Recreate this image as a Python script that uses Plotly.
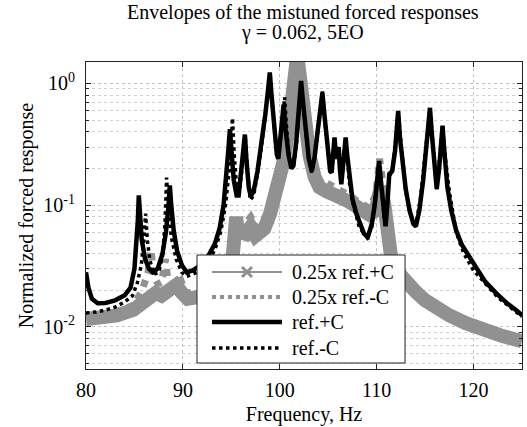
import plotly.graph_objects as go

# Envelope of the reference forced response (+C)
ref_pos_f = [80.0, 80.25, 80.6, 81.2, 82.0, 83.0, 84.0, 84.6, 85.0, 85.2, 85.35, 85.45, 85.55, 85.75,
             86.1, 86.5, 86.9, 87.4, 87.9, 88.25, 88.5, 88.65, 88.8, 89.05, 89.4, 89.9, 90.4, 91.0,
             91.8, 92.6, 93.3, 93.8, 94.2, 94.5, 94.7, 94.85, 95.0, 95.25, 95.55, 95.75, 95.95, 96.2,
             96.4, 96.55, 96.8, 97.0, 97.3, 97.7, 98.1, 98.5, 98.8, 98.97, 99.15, 99.4, 99.7, 99.85,
             100.05, 100.25, 100.4, 100.6, 100.9, 101.2, 101.4, 101.7, 102.0, 102.2, 102.4, 102.7,
             103.0, 103.3, 103.6, 103.9, 104.2, 104.4, 104.6, 104.9, 105.2, 105.35, 105.5, 105.65,
             105.82, 106.0, 106.08, 106.2, 106.35, 106.55, 106.8, 106.95, 107.2, 107.5, 107.9, 108.3,
             108.7, 109.1, 109.5, 109.8, 110.05, 110.25, 110.5, 110.75, 110.92, 111.1, 111.3, 111.6,
             111.9, 112.1, 112.22, 112.4, 112.7, 113.0, 113.4, 113.8, 114.05, 114.4, 114.8, 115.1,
             115.35, 115.5, 115.7, 115.95, 116.2, 116.45, 116.65, 116.8, 116.95, 117.3, 117.7, 118.2,
             118.8, 119.5, 120.3, 121.2, 122.3, 123.5, 124.5, 125.0]
ref_pos_v = [0.028, 0.021, 0.017, 0.0156, 0.0157, 0.0165, 0.0182, 0.021, 0.030, 0.045, 0.075, 0.120, 0.085, 0.052,
             0.036, 0.030, 0.028, 0.030, 0.040, 0.060, 0.095, 0.145, 0.100, 0.062, 0.042, 0.032, 0.028, 0.029,
             0.032, 0.038, 0.048, 0.065, 0.100, 0.170, 0.290, 0.420, 0.270, 0.160, 0.120, 0.120, 0.170, 0.270,
             0.380, 0.240, 0.140, 0.118, 0.130, 0.190, 0.310, 0.550, 0.900, 1.23, 0.800, 0.420, 0.260, 0.240,
             0.350, 0.520, 0.670, 0.420, 0.260, 0.200, 0.210, 0.330, 0.600, 1.05, 0.700, 0.380,
             0.240, 0.190, 0.250, 0.400, 0.650, 0.840, 0.560, 0.300, 0.190, 0.185, 0.260, 0.360,
             0.240, 0.280, 0.300, 0.200, 0.148, 0.220, 0.360, 0.260, 0.160, 0.112, 0.085, 0.068,
             0.058, 0.055, 0.070, 0.100, 0.160, 0.230, 0.140, 0.080, 0.067, 0.100, 0.180, 0.190,
             0.280, 0.450, 0.595, 0.360, 0.200, 0.135, 0.090, 0.070, 0.067, 0.090, 0.160, 0.270,
             0.450, 0.630, 0.380, 0.200, 0.136, 0.200, 0.330, 0.450, 0.300, 0.140, 0.090, 0.062,
             0.047, 0.038, 0.030, 0.0235, 0.019, 0.0155, 0.0135, 0.0124]

# Envelope of the reference forced response (-C)
ref_neg_f = [80.0, 81.0, 82.0, 83.0, 84.0, 84.8, 85.3, 85.7, 85.95, 86.15, 86.35, 86.6, 87.0, 87.5,
             87.9, 88.15, 88.32, 88.5, 88.8, 89.3, 89.9, 90.4, 91.0, 91.8, 92.6, 93.3, 93.9, 94.4,
             94.8, 95.0, 95.12, 95.3, 95.55, 95.8, 96.0, 96.25, 96.45, 96.65, 96.95, 97.3, 97.7, 98.1,
             98.5, 98.8, 98.97, 99.15, 99.4, 99.7, 99.9, 100.15, 100.35, 100.5, 100.7, 100.95, 101.2,
             101.45, 101.75, 102.0, 102.2, 102.4, 102.7, 103.0, 103.3, 103.6, 103.9, 104.2, 104.4,
             104.6, 104.9, 105.2, 105.4, 105.65, 105.85, 106.08, 106.35, 106.8, 107.2, 107.6, 108.2,
             109.0, 109.5, 110.0, 110.25, 110.5, 110.9, 111.3, 111.6, 111.9, 112.22, 112.5, 113.0,
             113.5, 114.0, 114.5, 115.0, 115.5, 115.75, 116.2, 116.5, 116.8, 117.1, 117.5, 118.2,
             119.0, 120.0, 121.2, 122.5, 124.0, 125.0]
ref_neg_v = [0.0130, 0.0132, 0.0137, 0.0145, 0.0160, 0.018, 0.023, 0.032, 0.050, 0.085, 0.050, 0.035, 0.027, 0.028,
             0.038, 0.070, 0.168, 0.095, 0.055, 0.036, 0.028, 0.026, 0.027, 0.029, 0.034, 0.043, 0.060, 0.100,
             0.200, 0.350, 0.520, 0.260, 0.140, 0.120, 0.170, 0.270, 0.350, 0.200, 0.110, 0.120, 0.180, 0.300,
             0.520, 0.850, 1.15, 0.760, 0.410, 0.250, 0.260, 0.420, 0.620, 0.770, 0.430, 0.260, 0.200,
             0.215, 0.340, 0.580, 1.00, 0.680, 0.370, 0.235, 0.185, 0.240, 0.390, 0.640, 0.860,
             0.540, 0.290, 0.185, 0.200, 0.350, 0.235, 0.290, 0.150, 0.350, 0.150, 0.100, 0.066,
             0.054, 0.066, 0.140, 0.225, 0.130, 0.066, 0.175, 0.185, 0.300, 0.580, 0.330, 0.130,
             0.085, 0.066, 0.110, 0.260, 0.610, 0.360, 0.135, 0.250, 0.440, 0.240, 0.130, 0.060,
             0.040, 0.029, 0.0225, 0.0175, 0.0140, 0.0121]

# Envelopes for 0.25x the reference mistuning (+C)
q_pos_f = [80.0, 81.5, 83.2, 84.9, 85.8, 86.5, 87.2, 87.8, 88.5, 89.3, 89.9, 90.5, 91.5, 92.5, 93.5,
           94.3, 94.9, 95.3, 95.5, 95.7, 96.0, 96.5, 97.0, 97.5, 98.0, 98.4, 99.0, 99.7, 100.4, 100.9,
           101.3, 101.5, 101.8, 102.1, 102.5, 103.05, 103.6, 104.1, 104.8, 105.5, 106.2, 107.2, 108.2,
           109.2, 109.9, 110.4, 110.8, 111.1, 111.5, 112.3, 113.0, 114.0, 115.0, 116.0, 117.5, 119.2,
           121.0, 123.0, 125.0]
q_pos_v = [0.0116, 0.0118, 0.0124, 0.0138, 0.0160, 0.0185, 0.019, 0.018, 0.020, 0.022, 0.019, 0.017, 0.0175, 0.018, 0.019,
           0.020, 0.023, 0.040, 0.080, 0.055, 0.060, 0.058, 0.066, 0.056, 0.062, 0.064, 0.085, 0.135, 0.23, 0.42,
           1.0, 1.6, 1.7, 1.1, 0.45, 0.26, 0.17, 0.14, 0.13, 0.127, 0.116, 0.106, 0.094,
           0.084, 0.090, 0.14, 0.10, 0.058, 0.037, 0.0275, 0.023, 0.0195, 0.0165, 0.0145, 0.0124, 0.0107,
           0.0094, 0.0084, 0.0076]

# Envelopes for 0.25x the reference mistuning (-C)
q_neg_f = [80.0, 81.5, 83.2, 84.9, 85.8, 86.4, 86.7, 87.0, 87.5, 87.9, 88.2, 88.45, 89.0, 89.8, 90.3,
           91.5, 93.0, 94.2, 94.9, 95.4, 95.8, 96.4, 97.0, 97.6, 98.4, 99.0, 99.7, 100.4, 100.9, 101.3,
           101.6, 102.0, 102.3, 102.7, 103.1, 103.6, 104.3, 105.0, 105.6, 106.2, 107.2, 108.2, 109.2,
           109.9, 110.3, 110.7, 111.0, 111.3, 111.7, 112.3, 113.0, 114.0, 115.0, 116.0, 117.5, 119.2,
           121.0, 123.0, 125.0]
q_neg_v = [0.0124, 0.0126, 0.0133, 0.0150, 0.020, 0.028, 0.043, 0.026, 0.022, 0.026, 0.036, 0.024, 0.021, 0.024, 0.019,
           0.019, 0.021, 0.022, 0.026, 0.045, 0.060, 0.070, 0.080, 0.065, 0.075, 0.100, 0.160, 0.26, 0.50, 1.2,
           1.7, 1.3, 0.70, 0.35, 0.24, 0.16, 0.16, 0.15, 0.14, 0.13, 0.12, 0.105, 0.095,
           0.12, 0.24, 0.14, 0.07, 0.046, 0.034, 0.029, 0.024, 0.020, 0.0172, 0.0150, 0.0128, 0.0111,
           0.0098, 0.0088, 0.0080]

series_names = ["0.25x ref.+C", "0.25x ref.-C", "ref.+C", "ref.-C"]
y_tick_vals = [0.01, 0.1, 1]
y_tick_text = ["10<sup>-2</sup>", "10<sup>-1</sup>", "10<sup>0</sup>"]
x_tick_vals = [80, 90, 100, 110, 120]

GRAY = "#919191"
FONT = "Liberation Serif"

fig = go.Figure()

# gray band: 0.25x mistuning envelopes
fig.add_trace(go.Scatter(x=q_pos_f, y=q_pos_v, mode="lines", name=series_names[0],
                         line=dict(color=GRAY, width=14), showlegend=False))
fig.add_trace(go.Scatter(x=q_neg_f, y=q_neg_v, mode="lines", name=series_names[1],
                         line=dict(color=GRAY, width=7, dash="dot"), showlegend=False))

# black envelopes: reference mistuning
fig.add_trace(go.Scatter(x=ref_pos_f, y=ref_pos_v, mode="lines", name=series_names[2],
                         line=dict(color="black", width=4.5), showlegend=False))
fig.add_trace(go.Scatter(x=ref_neg_f, y=ref_neg_v, mode="lines", name=series_names[3],
                         line=dict(color="black", width=3.5, dash="dot"), showlegend=False))

grid = dict(showgrid=True, gridcolor="#c4c4c4", griddash="dot", gridwidth=1)

fig.update_xaxes(range=[80, 125], tickmode="array", tickvals=x_tick_vals,
                 ticks="inside", ticklen=5, tickcolor="#222", showline=True, linecolor="#222",
                 linewidth=1, mirror="ticks", zeroline=False, ticklabelstandoff=3,
                 tickfont=dict(family=FONT, size=20, color="black"),
                 title=dict(text="Frequency, Hz", font=dict(family=FONT, size=20, color="black"), standoff=6),
                 **grid)

minor_vals = [m * 10 ** e for e in (-3, -2, -1, 0) for m in range(2, 10)]
fig.update_yaxes(type="log", range=[-2.347, 0.176], tickmode="array", tickvals=y_tick_vals,
                 ticktext=y_tick_text, ticks="inside", ticklen=5, tickcolor="#222",
                 showline=True, linecolor="#222", linewidth=1, mirror="ticks", zeroline=False,
                 tickfont=dict(family=FONT, size=20, color="black"), ticklabelstandoff=6,
                 title=dict(text="Normalized forced response", font=dict(family=FONT, size=20, color="black"),
                            standoff=4),
                 minor=dict(tickvals=minor_vals, ticks="inside", ticklen=3, tickcolor="#222",
                            showgrid=True, gridcolor="#d0d0d0", griddash="dot", gridwidth=1),
                 **grid)

# two-line title
fig.add_annotation(text="Envelopes of the mistuned forced responses", xref="paper", yref="paper",
                   x=0.497, y=1.160, xanchor="center", yanchor="middle", showarrow=False,
                   font=dict(family=FONT, size=20, color="black"))
fig.add_annotation(text="\u03b3 = 0.062, 5EO", xref="paper", yref="paper",
                   x=0.497, y=1.097, xanchor="center", yanchor="middle", showarrow=False,
                   font=dict(family=FONT, size=20, color="black"))

# legend box with long line keys (paper coordinates)
box = dict(x0=0.2546, x1=0.7317, y0=0.0195, y1=0.3713)
row_y = [0.316, 0.2345, 0.153, 0.0684]
key_x0, key_x1, text_x = 0.289, 0.4495, 0.468
key_styles = [dict(color=GRAY, width=2), dict(color=GRAY, width=4, dash="dot"),
              dict(color="black", width=4.5), dict(color="black", width=3.5, dash="dot")]

fig.add_shape(type="rect", xref="paper", yref="paper", fillcolor="white",
              line=dict(color="#222", width=1), layer="above", **box)
for name, yy, st in zip(series_names, row_y, key_styles):
    fig.add_shape(type="line", xref="paper", yref="paper", x0=key_x0, x1=key_x1, y0=yy, y1=yy,
                  line=st, layer="above")
    fig.add_annotation(text=name, xref="paper", yref="paper", x=text_x, y=yy,
                       xanchor="left", yanchor="middle", showarrow=False,
                       font=dict(family=FONT, size=20, color="black"))

# x marker on the first key
cx, cy, dx, dy = (key_x0 + key_x1) / 2, row_y[0], 0.0115, 0.0163
fig.add_shape(type="path", xref="paper", yref="paper", layer="above",
              path=f"M {cx-dx},{cy-dy} L {cx+dx},{cy+dy} M {cx-dx},{cy+dy} L {cx+dx},{cy-dy}",
              line=dict(color=GRAY, width=3))

fig.update_layout(
    width=527, height=427,
    margin=dict(l=86, r=5, t=62, b=58),
    paper_bgcolor="white", plot_bgcolor="white",
    font=dict(family=FONT, size=20, color="black"),
    showlegend=False,
)

fig.write_html("out.html")
